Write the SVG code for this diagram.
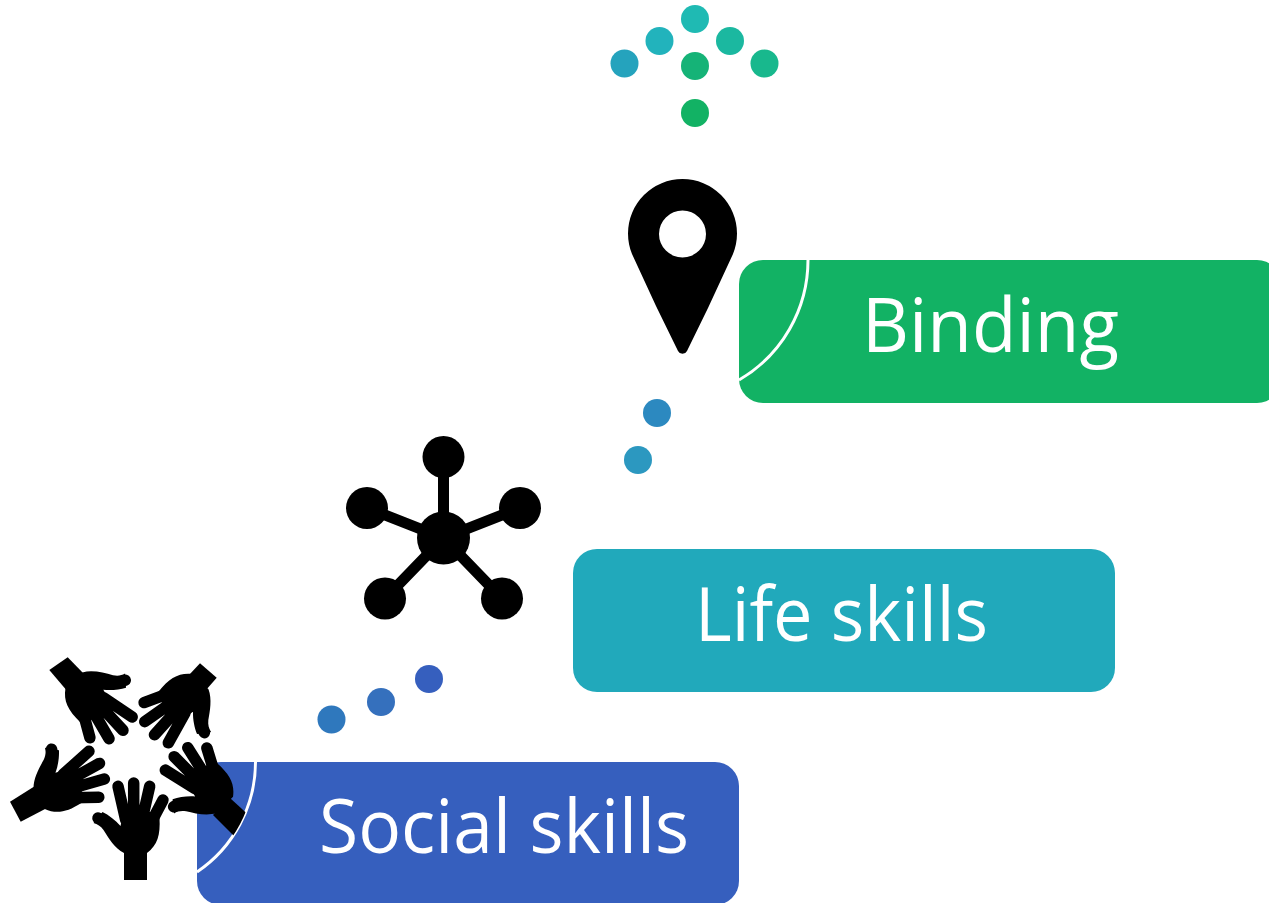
<svg xmlns="http://www.w3.org/2000/svg" xmlns:xlink="http://www.w3.org/1999/xlink" width="1269" height="903" viewBox="0 0 1269 903">
<style>
.label{font-family:"Open Sans","Liberation Sans",sans-serif;font-size:75px;fill:#fff}
.arc{fill:none;stroke:#fff;stroke-width:3}
.f{fill:none;stroke:#000;stroke-width:11.500;stroke-linecap:round;stroke-linejoin:round}
.net{stroke:#000;stroke-width:11}
</style>
<defs>
<g id="hand">
<path d="M-11.500,-27C-21,-32 -27,-42 -32,-50C-35,-54 -38,-56 -42,-57L-33,-68C-27,-65 -20,-60 -15,-54L-12,-68H23L24,-62C25,-45 22,-35 11.500,-27Z"/>
<path class="f" d="M-17.500,-93.700L-9.800,-60M-1.800,-97V-60M14.200,-93.700L6.500,-60M27.500,-80L14.800,-56M-37.500,-62Q-30,-60 -25,-53"/>
</g>
<clipPath id="insideArc"><path d="M0 640H255.500V762A132.700 132.700 0 0 1 197 872V903H0Z"/></clipPath>
</defs>
<g id="node-binding">
<rect x="739" y="260" width="542" height="143" rx="24" fill="#12b264"/>
<path class="arc" d="M808 260A139 139 0 0 1 739 380"/>
<text class="label" x="862" y="352" textLength="257" lengthAdjust="spacingAndGlyphs">Binding</text>
</g>
<g id="node-life-skills">
<rect x="573" y="549" width="542" height="143" rx="24" fill="#21a9bb"/>
<text class="label" x="695" y="641" textLength="293" lengthAdjust="spacingAndGlyphs">Life skills</text>
</g>
<g id="node-social-skills">
<rect x="197" y="762" width="542" height="143" rx="24" fill="#365fbe"/>
<path class="arc" d="M255.500 762A132.700 132.700 0 0 1 197 872"/>
<text class="label" x="319" y="853" textLength="370" lengthAdjust="spacingAndGlyphs">Social skills</text>
</g>
<g id="icon-pin">
<path fill-rule="evenodd" d="M682.500 179A54.500 54.500 0 0 1 737 233.500C737 241 735.500 248 733 254L708 308L687 351A5 5 0 0 1 678 351L656 306L632 254C629.500 248 628 241 628 233.500A54.500 54.500 0 0 1 682.500 179ZM682.500 210.500A23.500 23.500 0 1 0 682.500 257.500A23.500 23.500 0 1 0 682.500 210.500Z"/>
</g>
<g id="icon-network">
<path class="net" d="M443.500 538V457M443.500 538L367 508M443.500 538L520 508M443.500 538L385 598.500M443.500 538L502 598.500"/>
<circle cx="443.500" cy="538" r="26.500"/>
<circle cx="443.500" cy="457" r="21"/>
<circle cx="367" cy="508" r="21"/>
<circle cx="520" cy="508" r="21"/>
<circle cx="385" cy="598.500" r="21"/>
<circle cx="502" cy="598.500" r="21"/>
</g>
<g id="icon-hands">
<use xlink:href="#hand" href="#hand" transform="translate(135.500 880)"/>
<rect x="124" y="850" width="23" height="30"/>
<use xlink:href="#hand" href="#hand" transform="translate(15.500 812) rotate(61)"/>
<polygon points="10,801.700 20.700,821.700 47,808 35,786"/>
<use xlink:href="#hand" href="#hand" transform="translate(55.500 660.500) rotate(137)"/>
<polygon points="49.300,670 67.700,657.300 84,674 68,692"/>
<use xlink:href="#hand" href="#hand" transform="translate(218 661.500) rotate(222)"/>
<polygon points="200,663.300 216.700,677.700 206,690 189,675"/>
<g clip-path="url(#insideArc)">
<use xlink:href="#hand" href="#hand" transform="translate(244 824) rotate(315)"/>
<polygon points="213,815 236,838 254,820 230,798"/>
</g>
</g>
<g id="connectors">
<circle cx="695" cy="19" r="14" fill="#1fbab3"/>
<circle cx="659.500" cy="41" r="14" fill="#22b3bc"/>
<circle cx="730" cy="41" r="14" fill="#1bb8a0"/>
<circle cx="624.500" cy="63.500" r="14" fill="#25a3bd"/>
<circle cx="695" cy="66" r="14" fill="#15b377"/>
<circle cx="764.500" cy="63.500" r="14" fill="#18b88d"/>
<circle cx="695" cy="113" r="14" fill="#12b264"/>
<circle cx="657" cy="413" r="14" fill="#2c89c0"/>
<circle cx="638" cy="460" r="14" fill="#2c98c0"/>
<circle cx="429" cy="679" r="14" fill="#365fbe"/>
<circle cx="381" cy="702" r="14" fill="#3570bd"/>
<circle cx="331.500" cy="719.500" r="14" fill="#2f78bd"/>
</g>
</svg>
